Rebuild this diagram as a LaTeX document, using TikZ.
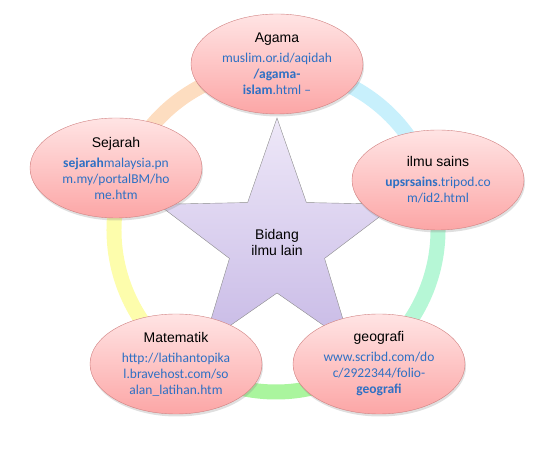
\documentclass[tikz,border=0pt]{standalone}
\usepackage{fontspec}
\setmainfont{Liberation Sans}
\newfontfamily\urlfont{Carlito}
\usetikzlibrary{shapes.geometric, shadows}

\definecolor{linkblue}{RGB}{46,112,196}
\definecolor{bubbleline}{RGB}{208,128,128}
\definecolor{bubbletop}{RGB}{255,228,228}
\definecolor{bubblebot}{RGB}{252,166,166}
\definecolor{startop}{RGB}{238,232,248}
\definecolor{starbot}{RGB}{200,186,230}
\definecolor{ringpeach}{RGB}{253,221,192}
\definecolor{ringyellow}{RGB}{253,253,172}
\definecolor{ringgreen}{RGB}{170,245,158}
\definecolor{ringmint}{RGB}{182,247,214}
\definecolor{ringblue}{RGB}{200,240,252}

\newcommand{\lnk}[1]{{\urlfont\fontsize{13.5}{16}\selectfont\color{linkblue}#1}}

\begin{document}
\begin{tikzpicture}[x=1pt, y=1pt,
    bubble/.style={ellipse, draw=bubbleline, top color=bubbletop, bottom color=bubblebot,
                   minimum width=172pt, minimum height=100pt, inner sep=0pt, align=center,
                   font=\fontsize{14}{16}\selectfont,
                   drop shadow={shadow xshift=1pt, shadow yshift=-2.5pt, opacity=0.25}},
    starbox/.style={star, star points=5, star point ratio=2.5, minimum size=250pt,
                    draw=black!45, top color=startop, bottom color=starbot, inner sep=0pt,
                    align=center, font=\fontsize{14}{16}\selectfont},
    band/.style={line width=15pt},
  ]
    \useasboundingbox (0,0) rectangle (543,449);

    % ring behind everything
    \coordinate (hub) at (276,219);
    \draw[band, ringpeach]  ([shift={(90:162)}]hub)  arc[start angle=90,  end angle=159, radius=162];
    \draw[band, ringyellow] ([shift={(159:162)}]hub) arc[start angle=159, end angle=233, radius=162];
    \draw[band, ringgreen]  ([shift={(233:162)}]hub) arc[start angle=233, end angle=307, radius=162];
    \draw[band, ringmint]   ([shift={(307:162)}]hub) arc[start angle=307, end angle=377, radius=162];
    \draw[band, ringblue]   ([shift={(17:162)}]hub)  arc[start angle=17,  end angle=90,  radius=162];

    \node[starbox] (core) at (277,206) {Bidang\\ilmu lain};

    \node[bubble] (agama) at (277,385)
      {Agama\\[4pt]\lnk{muslim.or.id/aqidah}\\\lnk{\textbf{/agama-}}\\\lnk{\textbf{islam}.html –}};
    \node[bubble] (sains) at (438,269)
      {ilmu sains\\[4pt]\lnk{\textbf{upsrsains}.tripod.co}\\\lnk{m/id2.html}};
    \node[bubble] (geo) at (379,85)
      {geografi\\[4pt]\lnk{www.scribd.com/do}\\\lnk{c/2922344/folio-}\\\lnk{\textbf{geografi}}};
    \node[bubble] (mate) at (176,85)
      {Matematik\\[4pt]\lnk{http://latihantopika}\\\lnk{l.bravehost.com/so}\\\lnk{alan\_latihan.htm}};
    \node[bubble] (sejarah) at (116,281)
      {Sejarah\\[4pt]\lnk{\textbf{sejarah}malaysia.pn}\\\lnk{m.my/portalBM/ho}\\\lnk{me.htm}};
  \end{tikzpicture}
\end{document}
